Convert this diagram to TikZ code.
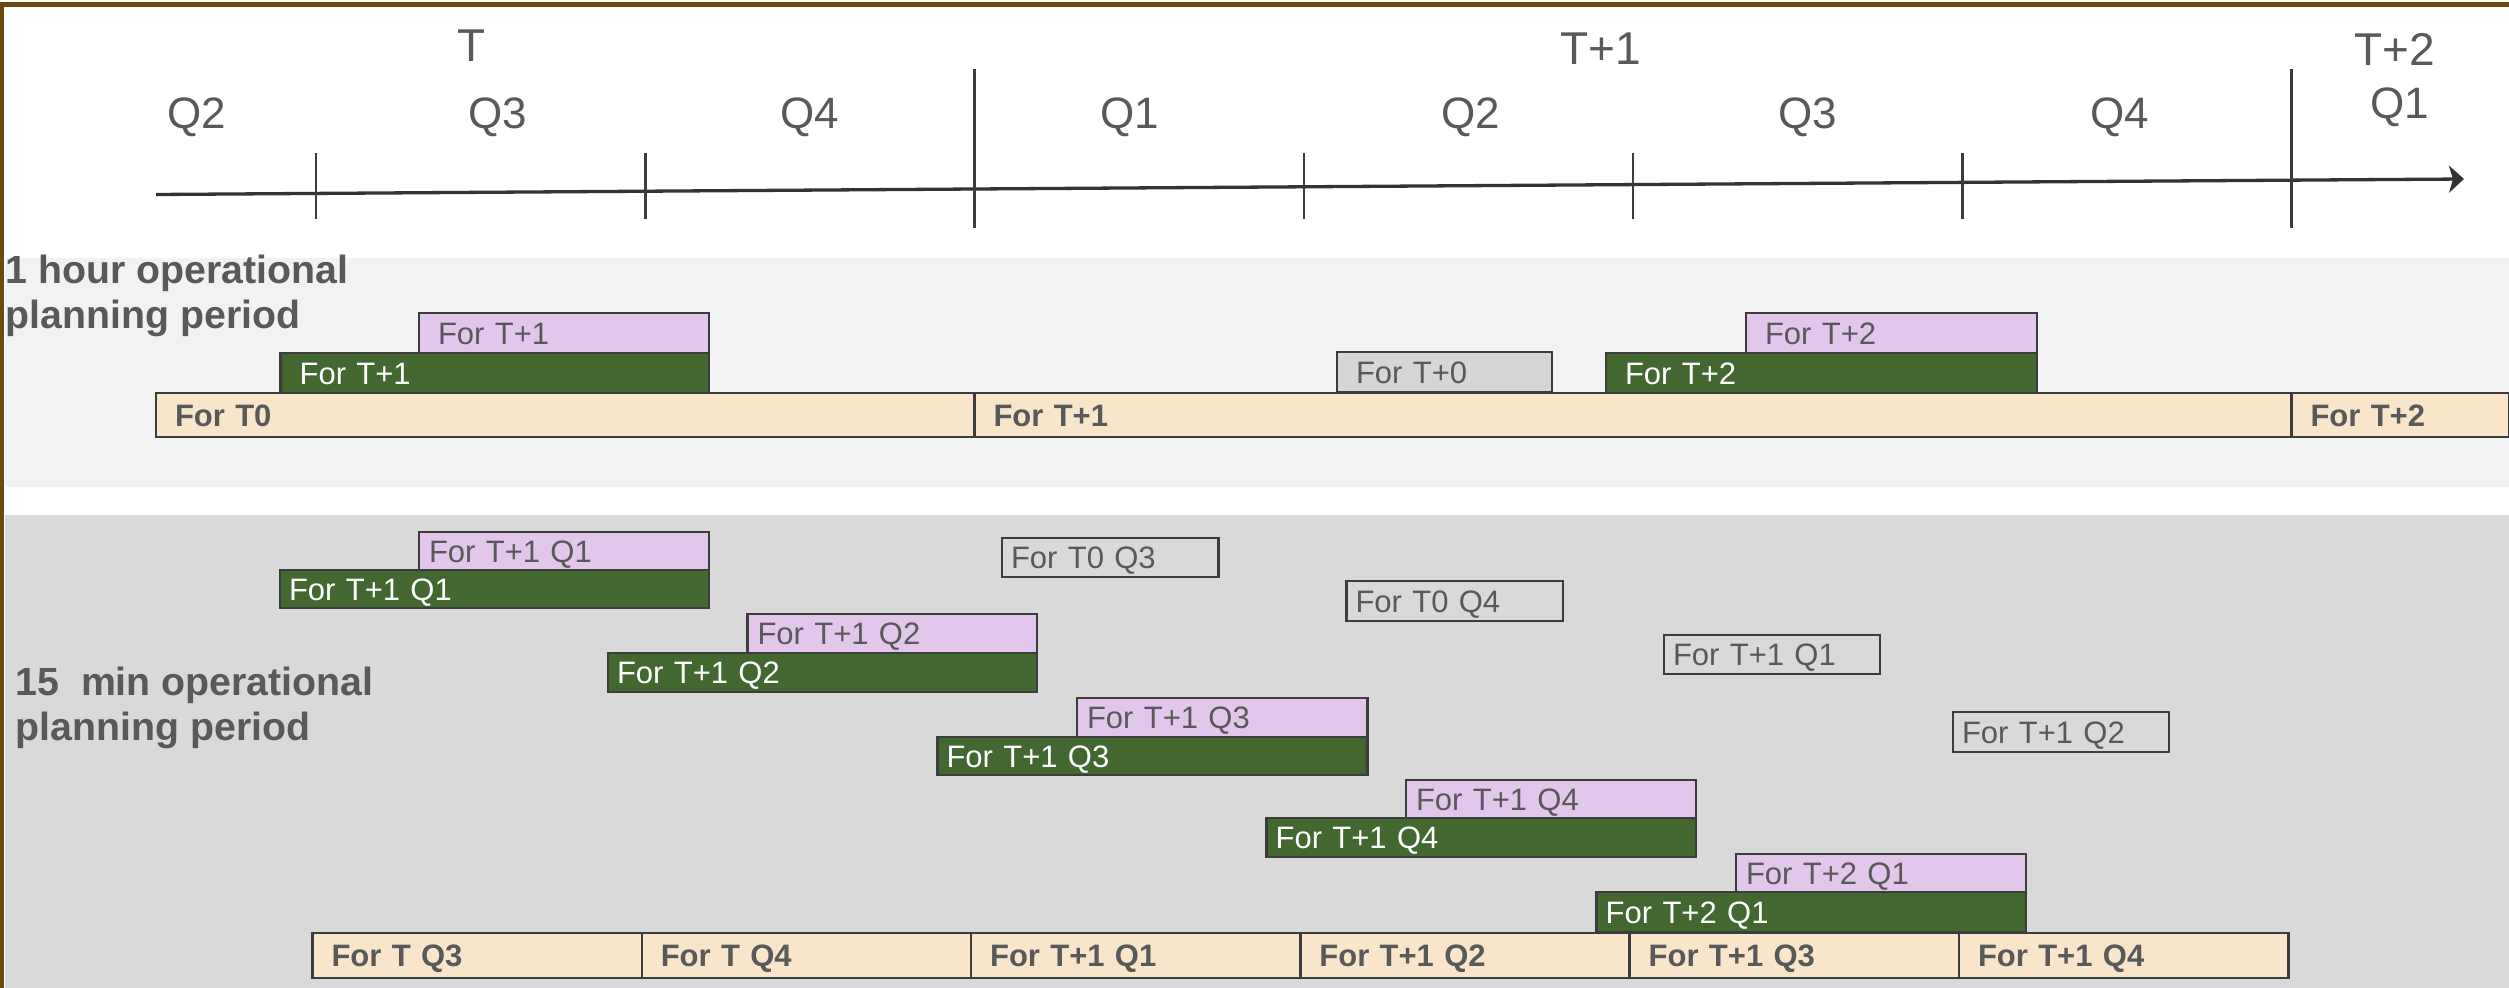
\documentclass[tikz,border=0pt]{standalone}
\usepackage{fontspec}
\setmainfont{Liberation Sans}
\usetikzlibrary{arrows.meta}
\definecolor{brownb}{RGB}{107,74,18}
\definecolor{txt}{RGB}{89,89,89}
\definecolor{edge}{RGB}{60,60,60}
\definecolor{beige}{RGB}{249,230,202}
\definecolor{grn}{RGB}{66,104,47}
\definecolor{pnk}{RGB}{227,198,236}
\definecolor{lgray}{RGB}{242,242,242}
\definecolor{dgray}{RGB}{217,217,217}
\definecolor{tgray}{RGB}{214,214,214}
\newcommand{\bx}[8]{%
  \pgfmathsetmacro{\bxtw}{#5-2*#7}%
  \node[#1, anchor=north west, minimum height=#6pt, inner xsep=#7pt, text width=\bxtw pt] (#2) at (#3,#4) {#8};%
}
\begin{document}
\begin{tikzpicture}[x=1pt,y=-1pt,
  every node/.style={inner sep=0pt, outer sep=0pt},
  barbase/.style={draw=edge, line width=2.6pt, inner ysep=0pt, text height=22pt, text depth=0pt,
    font=\fontsize{31}{36}\selectfont},
  beigebox/.style={barbase, fill=beige, text=txt, font=\fontsize{31}{36}\selectfont\bfseries},
  greenbox/.style={barbase, fill=grn, text=white},
  pinkbox/.style={barbase, fill=pnk, text=txt},
  graybox/.style={barbase, fill=tgray, text=txt},
  outlinebox/.style={barbase, fill=dgray, text=txt},
  qlabel/.style={text=txt, font=\fontsize{44}{50}\selectfont},
  ylabel/.style={text=txt, font=\fontsize{46}{52}\selectfont},
  panellabel/.style={text=txt, anchor=north west, align=left, font=\fontsize{39.3}{45}\selectfont\bfseries},
  axisline/.style={draw=edge!85!black, line width=3.3pt, -{Stealth[length=15pt,width=27pt,inset=4pt]}},
  minortick/.style={draw=edge, line width=2.2pt},
  majortick/.style={draw=edge, line width=3.6pt}
]
\useasboundingbox (0,0) rectangle (2509,988);
\fill[white] (0,0) rectangle (2509,988);
% panels
\fill[lgray] (5,257.5) rectangle (2509,487);
\fill[dgray] (5,515) rectangle (2509,988);
% frame
\fill[brownb] (0,1.5) rectangle (2509,6.5);
\fill[brownb] (0,1.5) rectangle (3.5,988);

% axis
\coordinate (axL) at (156,194.5);
\coordinate (axR) at (2464,179);
\draw[axisline] (axL) -- (axR);
\foreach \xx in {315.7,645.4,1304,1633,1962.5} {\draw[minortick] (\xx,153) -- (\xx,218.5);}
\foreach \xx in {974.5,2291.6} {\draw[majortick] (\xx,69) -- (\xx,228);}

% year labels
\node[ylabel] (yT) at (472,46) {T};
\node[ylabel] (yT1) at (1601,49) {T+1};
\node[ylabel] (yT2) at (2394.5,49) {T+2};
% quarter labels
\node[qlabel] (q1) at (197,117) {Q2};
\node[qlabel] (q2) at (498,117) {Q3};
\node[qlabel] (q3) at (810,117) {Q4};
\node[qlabel] (q4) at (1130,117) {Q1};
\node[qlabel] (q5) at (1471,117) {Q2};
\node[qlabel] (q6) at (1808,117) {Q3};
\node[qlabel] (q7) at (2120,117) {Q4};
\node[qlabel] (q8) at (2400,107) {Q1};

% panel labels
\node[panellabel] (hourlab) at (5.5,255) {1 hour operational\\planning period};
\node[panellabel] (minlab) at (15.5,667) {15\ \ min operational\\planning period};

% 1-hour panel bars
\bx{beigebox}{hT0}{156}{393}{818.5}{44}{19}{For T0}
\bx{beigebox}{hT1}{974.5}{393}{1317}{44}{19}{For T+1}
\bx{beigebox}{hT2}{2291.5}{393}{218}{44}{19}{For T+2}
\bx{greenbox}{hgT1}{280.6}{353}{428.4}{40}{19}{For T+1}
\bx{pinkbox}{hpT1}{419}{313}{290}{40}{19}{For T+1}
\bx{graybox}{hgT0}{1337}{352}{215}{40}{19}{For T+0}
\bx{greenbox}{hgT2}{1606}{353}{431}{40}{19}{For T+2}
\bx{pinkbox}{hpT2}{1746}{313}{291}{40}{19}{For T+2}

% 15-min panel bottom row
\bx{beigebox}{mA}{312.5}{933}{329.3}{45}{19}{For T Q3}
\bx{beigebox}{mB}{641.8}{933}{329.3}{45}{19}{For T Q4}
\bx{beigebox}{mC}{971.1}{933}{329.3}{45}{19}{For T+1 Q1}
\bx{beigebox}{mD}{1300.4}{933}{329.3}{45}{19}{For T+1 Q2}
\bx{beigebox}{mE}{1629.7}{933}{329.3}{45}{19}{For T+1 Q3}
\bx{beigebox}{mF}{1959}{933}{329.3}{45}{19}{For T+1 Q4}

% pairs
\bx{greenbox}{g1}{280}{570}{429}{38}{9}{For T+1 Q1}
\bx{pinkbox}{p1}{419}{532}{290}{38}{10}{For T+1 Q1}
\bx{greenbox}{g2}{608}{653}{429}{39}{9}{For T+1 Q2}
\bx{pinkbox}{p2}{747.5}{614}{289.5}{39}{10}{For T+1 Q2}
\bx{greenbox}{g3}{937.5}{737}{430}{38}{9}{For T+1 Q3}
\bx{pinkbox}{p3}{1077}{698}{290.7}{39}{10}{For T+1 Q3}
\bx{greenbox}{g4}{1266.6}{818}{429.4}{39}{9}{For T+1 Q4}
\bx{pinkbox}{p4}{1406}{780}{290}{38}{10}{For T+1 Q4}
\bx{greenbox}{g5}{1596.7}{892}{429.3}{40}{9}{For T+2 Q1}
\bx{pinkbox}{p5}{1736}{854}{290}{38}{10}{For T+2 Q1}

% outline boxes
\bx{outlinebox}{o1}{1002}{538}{216.5}{39}{9}{For T0 Q3}
\bx{outlinebox}{o2}{1346.5}{581}{216.5}{40}{9}{For T0 Q4}
\bx{outlinebox}{o3}{1664}{635}{216}{39}{9}{For T+1 Q1}
\bx{outlinebox}{o4}{1953}{712}{216}{40}{9}{For T+1 Q2}
\end{tikzpicture}
\end{document}
